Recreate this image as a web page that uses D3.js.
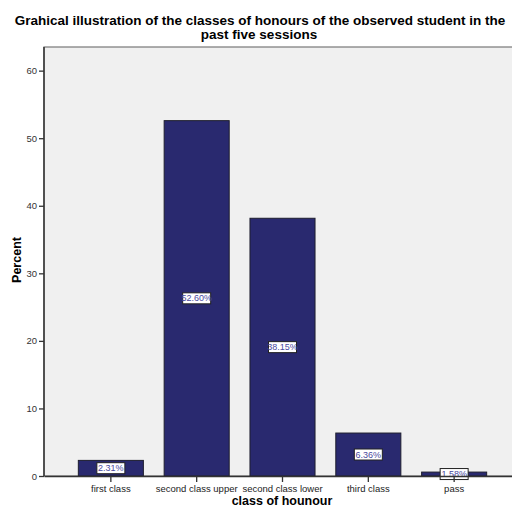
<!DOCTYPE html>
<html>
<head>
<meta charset="utf-8">
<script src="https://cdn.jsdelivr.net/npm/d3@7"></script>
<style>
  body { margin: 0; background: #fff; }
  text { font-family: Arial, "Liberation Sans", sans-serif; }
</style>
</head>
<body>
<svg id="chart" width="512" height="509"></svg>
<script>
const categories = ["first class", "second class upper", "second class lower", "third class", "pass"];
const percents = [2.31, 52.60, 38.15, 6.36, 0.58];
const barLabels = ["2.31%", "52.60%", "38.15%", "6.36%", "1.58%"];
const yTicks = [0, 10, 20, 30, 40, 50, 60];

const svg = d3.select("#chart");

const plot = {left: 44, top: 47, right: 521, bottom: 476};

const x = d3.scaleBand()
    .domain(categories)
    .range([plot.left, plot.right])
    .paddingInner(0.242)
    .paddingOuter(0.4);

const y = d3.scaleLinear()
    .domain([0, 63.5])
    .range([plot.bottom, plot.top]);

// plot background + frame
svg.append("rect")
    .attr("x", plot.left)
    .attr("y", plot.top)
    .attr("width", plot.right - plot.left)
    .attr("height", plot.bottom - plot.top)
    .attr("fill", "#f0f0f0")
    .attr("stroke", "#777")
    .attr("stroke-width", 1.2);

// title
svg.append("text")
    .attr("x", 260).attr("y", 25)
    .attr("text-anchor", "middle")
    .attr("font-size", "13.5px").attr("font-weight", "bold")
    .text("Grahical illustration of the classes of honours of the observed student in the");
svg.append("text")
    .attr("x", 259).attr("y", 38.5)
    .attr("text-anchor", "middle")
    .attr("font-size", "13.5px").attr("font-weight", "bold")
    .text("past five sessions");

// bars
svg.append("g").selectAll("rect")
    .data(percents)
    .enter().append("rect")
    .attr("x", (d, i) => x(categories[i]))
    .attr("y", d => y(d))
    .attr("width", x.bandwidth())
    .attr("height", d => y(0) - y(d))
    .attr("fill", "#29296f")
    .attr("stroke", "#1e1e2e")
    .attr("stroke-width", 1);

// value labels
const lab = svg.append("g").selectAll("g")
    .data(percents)
    .enter().append("g")
    .attr("transform", (d, i) => `translate(${x(categories[i]) + x.bandwidth() / 2},${y(d / 2)})`);
lab.append("rect")
    .attr("x", -14).attr("y", -5.5)
    .attr("width", 28).attr("height", 11)
    .attr("fill", "#fff")
    .attr("stroke", "#222").attr("stroke-width", 1);
lab.append("text")
    .attr("text-anchor", "middle")
    .attr("dy", "0.35em")
    .attr("font-size", "9px")
    .attr("fill", "#4a4aa0")
    .text((d, i) => barLabels[i]);

// y axis
const yAxis = svg.append("g")
    .attr("transform", `translate(${plot.left},0)`)
    .call(d3.axisLeft(y).tickValues(yTicks).tickSize(5).tickSizeOuter(0));
yAxis.select(".domain").attr("stroke", "#333").attr("stroke-width", 1.5)
    .attr("d", `M0,${plot.bottom}V${plot.top}`);
yAxis.selectAll(".tick line").attr("stroke", "#333").attr("stroke-width", 1.3);
yAxis.selectAll(".tick text").attr("font-size", "9.5px").attr("fill", "#333")
    .attr("font-family", "Arial, 'Liberation Sans', sans-serif").attr("x", -7);

// x axis
const xAxis = svg.append("g")
    .attr("transform", `translate(0,${plot.bottom})`)
    .call(d3.axisBottom(x).tickSize(6).tickSizeOuter(0));
xAxis.select(".domain").attr("stroke", "#333").attr("stroke-width", 1.5);
xAxis.selectAll(".tick line").attr("stroke", "#333").attr("stroke-width", 1.3);
xAxis.selectAll(".tick text").attr("font-size", "9.5px").attr("fill", "#222")
    .attr("font-family", "Arial, 'Liberation Sans', sans-serif").attr("y", 9);

// axis titles
svg.append("text")
    .attr("transform", "translate(21,260) rotate(-90)")
    .attr("text-anchor", "middle")
    .attr("font-size", "12.5px").attr("font-weight", "bold")
    .text("Percent");
svg.append("text")
    .attr("x", 282).attr("y", 505)
    .attr("text-anchor", "middle")
    .attr("font-size", "12.5px").attr("font-weight", "bold")
    .text("class of hounour");
</script>
</body>
</html>
